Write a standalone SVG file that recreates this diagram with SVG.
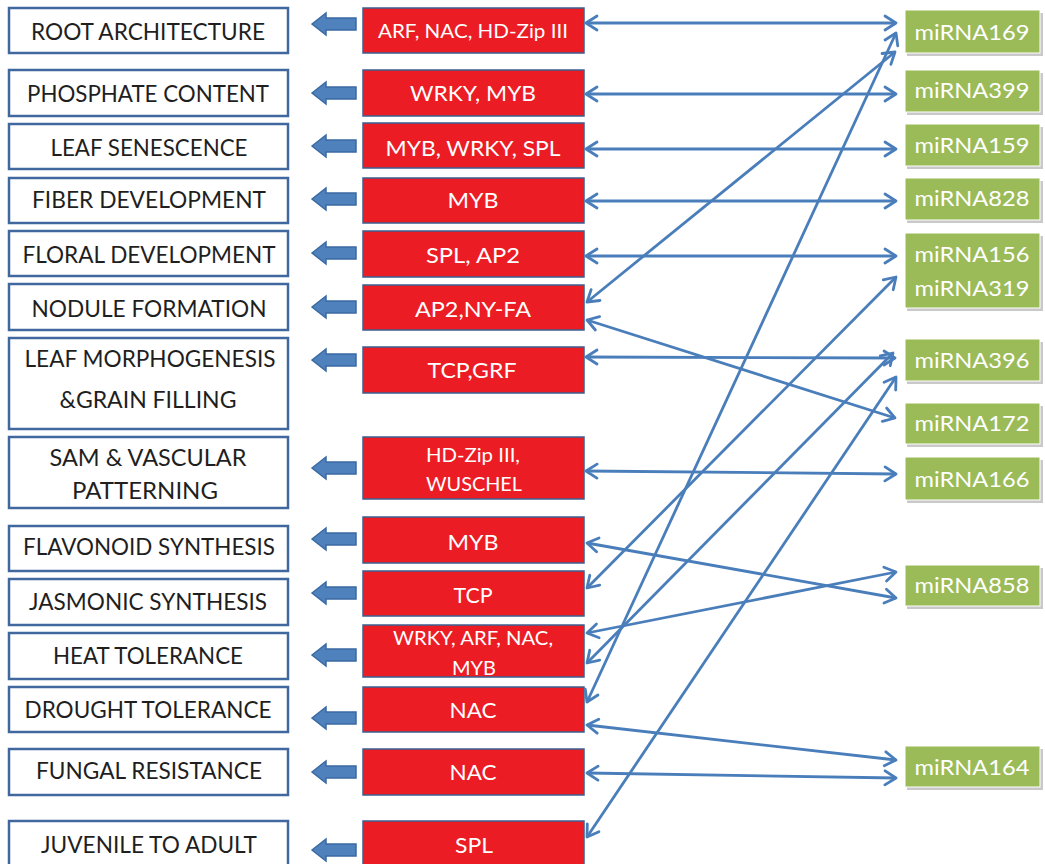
<svg xmlns="http://www.w3.org/2000/svg" xmlns:xlink="http://www.w3.org/1999/xlink" width="1045" height="864" viewBox="0 0 1045 864">
<style>
.lbox{fill:#fff;stroke:#41689e;stroke-width:2.5}
.rbox{fill:#ec1c24;stroke:#3b5f8f;stroke-width:1.5}
.gbox{fill:#9bbb59;stroke:#fff;stroke-width:1}
.shd{fill:#c9c9c9}
.barrow{fill:#4f81bd;stroke:#3a6aa3;stroke-width:1.5}
text{font-family:Lato,"Liberation Sans",sans-serif;text-anchor:middle}
.lt{font-size:23px;fill:#1f1f1f}
.rt{font-size:21px;fill:#fff}
.rs{font-size:19px;fill:#fff}
.gt{font-size:21px;fill:#fff}
.conn{stroke:#4a7ebb;stroke-width:2.8;fill:none;marker-start:url(#ah);marker-end:url(#ah)}
</style>
<defs>
<marker id="ah" viewBox="-13 -9 15 18" refX="0" refY="0" markerWidth="15" markerHeight="18" markerUnits="userSpaceOnUse" orient="auto-start-reverse">
<path d="M-11,-7 L0,0 L-11,7" fill="none" stroke="#4a7ebb" stroke-width="2.8" stroke-linecap="round" stroke-linejoin="round"/>
</marker>
<path id="ba" class="barrow" d="M312,0 L326,-11 L326,-6 L356,-6 L356,6 L326,6 L326,11 Z"/>
</defs>
<rect width="1045" height="864" fill="#fff"/>

<g id="functions">
<g id="f1"><rect class="lbox" x="9" y="8" width="279" height="45"/><text class="lt" x="148" y="40" textLength="234" lengthAdjust="spacingAndGlyphs">ROOT ARCHITECTURE</text></g>
<g id="f2"><rect class="lbox" x="9" y="70" width="279" height="46"/><text class="lt" x="148" y="102" textLength="242" lengthAdjust="spacingAndGlyphs">PHOSPHATE CONTENT</text></g>
<g id="f3"><rect class="lbox" x="9" y="124" width="279" height="45"/><text class="lt" x="149" y="156" textLength="197" lengthAdjust="spacingAndGlyphs">LEAF SENESCENCE</text></g>
<g id="f4"><rect class="lbox" x="9" y="178" width="279" height="45"/><text class="lt" x="149" y="208" textLength="234" lengthAdjust="spacingAndGlyphs">FIBER DEVELOPMENT</text></g>
<g id="f5"><rect class="lbox" x="9" y="231" width="279" height="45"/><text class="lt" x="149" y="263" textLength="253" lengthAdjust="spacingAndGlyphs">FLORAL DEVELOPMENT</text></g>
<g id="f6"><rect class="lbox" x="9" y="284" width="279" height="46"/><text class="lt" x="149" y="317" textLength="235" lengthAdjust="spacingAndGlyphs">NODULE FORMATION</text></g>
<g id="f7"><rect class="lbox" x="9" y="338" width="279" height="91"/><text class="lt" x="150" y="367" textLength="251" lengthAdjust="spacingAndGlyphs">LEAF MORPHOGENESIS</text><text class="lt" x="148" y="408" textLength="177" lengthAdjust="spacingAndGlyphs">&amp;GRAIN FILLING</text></g>
<g id="f8"><rect class="lbox" x="9" y="437" width="279" height="71"/><text class="lt" x="148" y="466" textLength="197" lengthAdjust="spacingAndGlyphs">SAM &amp; VASCULAR</text><text class="lt" x="145" y="499" textLength="146" lengthAdjust="spacingAndGlyphs">PATTERNING</text></g>
<g id="f9"><rect class="lbox" x="9" y="526" width="279" height="45"/><text class="lt" x="149" y="555" textLength="252" lengthAdjust="spacingAndGlyphs">FLAVONOID SYNTHESIS</text></g>
<g id="f10"><rect class="lbox" x="9" y="579" width="279" height="46"/><text class="lt" x="148" y="610" textLength="238" lengthAdjust="spacingAndGlyphs">JASMONIC SYNTHESIS</text></g>
<g id="f11"><rect class="lbox" x="9" y="633" width="279" height="46"/><text class="lt" x="148" y="664" textLength="190" lengthAdjust="spacingAndGlyphs">HEAT TOLERANCE</text></g>
<g id="f12"><rect class="lbox" x="9" y="687" width="279" height="45"/><text class="lt" x="148" y="718" textLength="247" lengthAdjust="spacingAndGlyphs">DROUGHT TOLERANCE</text></g>
<g id="f13"><rect class="lbox" x="9" y="749" width="279" height="46"/><text class="lt" x="149" y="779" textLength="226" lengthAdjust="spacingAndGlyphs">FUNGAL RESISTANCE</text></g>
<g id="f14"><rect class="lbox" x="9" y="821" width="279" height="50"/><text class="lt" x="149" y="853" textLength="216" lengthAdjust="spacingAndGlyphs">JUVENILE TO ADULT</text></g>
</g>

<g id="genes">
<g id="g1"><rect class="rbox" x="363" y="8" width="221" height="45"/><text class="rs" x="473" y="38" textLength="190" lengthAdjust="spacingAndGlyphs">ARF, NAC, HD-Zip III</text></g>
<g id="g2"><rect class="rbox" x="363" y="70" width="221" height="46"/><text class="rt" x="473" y="101" textLength="126" lengthAdjust="spacingAndGlyphs">WRKY, MYB</text></g>
<g id="g3"><rect class="rbox" x="363" y="123" width="221" height="45"/><text class="rt" x="473" y="156" textLength="175" lengthAdjust="spacingAndGlyphs">MYB, WRKY, SPL</text></g>
<g id="g4"><rect class="rbox" x="363" y="178" width="221" height="45"/><text class="rt" x="473" y="208" textLength="51" lengthAdjust="spacingAndGlyphs">MYB</text></g>
<g id="g5"><rect class="rbox" x="363" y="231" width="221" height="46"/><text class="rt" x="473" y="263" textLength="94" lengthAdjust="spacingAndGlyphs">SPL, AP2</text></g>
<g id="g6"><rect class="rbox" x="363" y="285" width="221" height="45"/><text class="rt" x="473" y="317" textLength="116" lengthAdjust="spacingAndGlyphs">AP2,NY-FA</text></g>
<g id="g7"><rect class="rbox" x="363" y="347" width="221" height="46"/><text class="rt" x="472" y="378" textLength="89" lengthAdjust="spacingAndGlyphs">TCP,GRF</text></g>
<g id="g8"><rect class="rbox" x="363" y="437" width="221" height="62"/><text class="rs" x="473" y="462" textLength="94" lengthAdjust="spacingAndGlyphs">HD-Zip III,</text><text class="rs" x="474" y="491" textLength="96" lengthAdjust="spacingAndGlyphs">WUSCHEL</text></g>
<g id="g9"><rect class="rbox" x="363" y="517" width="221" height="46"/><text class="rt" x="473" y="550" textLength="51" lengthAdjust="spacingAndGlyphs">MYB</text></g>
<g id="g10"><rect class="rbox" x="363" y="571" width="221" height="45"/><text class="rt" x="473" y="603" textLength="39" lengthAdjust="spacingAndGlyphs">TCP</text></g>
<g id="g11"><rect class="rbox" x="363" y="625" width="221" height="52"/><text class="rs" x="473" y="645" textLength="160" lengthAdjust="spacingAndGlyphs">WRKY, ARF, NAC,</text><text class="rs" x="474" y="675" textLength="44" lengthAdjust="spacingAndGlyphs">MYB</text></g>
<g id="g12"><rect class="rbox" x="363" y="687" width="221" height="45"/><text class="rt" x="473" y="718" textLength="47" lengthAdjust="spacingAndGlyphs">NAC</text></g>
<g id="g13"><rect class="rbox" x="363" y="749" width="221" height="46"/><text class="rt" x="473" y="780" textLength="47" lengthAdjust="spacingAndGlyphs">NAC</text></g>
<g id="g14"><rect class="rbox" x="363" y="821" width="221" height="50"/><text class="rt" x="474" y="853" textLength="38" lengthAdjust="spacingAndGlyphs">SPL</text></g>
</g>

<g id="mirnas">
<g id="m169"><rect class="shd" x="907" y="13" width="136" height="43"/><rect class="gbox" x="905" y="10" width="135" height="43"/><text class="gt" x="972" y="40" textLength="115" lengthAdjust="spacingAndGlyphs">miRNA169</text></g>
<g id="m399"><rect class="shd" x="907" y="73" width="136" height="42"/><rect class="gbox" x="905" y="70" width="135" height="42"/><text class="gt" x="972" y="98" textLength="115" lengthAdjust="spacingAndGlyphs">miRNA399</text></g>
<g id="m159"><rect class="shd" x="907" y="127" width="136" height="42"/><rect class="gbox" x="905" y="124" width="135" height="42"/><text class="gt" x="972" y="153" textLength="115" lengthAdjust="spacingAndGlyphs">miRNA159</text></g>
<g id="m828"><rect class="shd" x="907" y="181" width="136" height="42"/><rect class="gbox" x="905" y="178" width="135" height="42"/><text class="gt" x="972" y="206" textLength="115" lengthAdjust="spacingAndGlyphs">miRNA828</text></g>
<g id="m156"><rect class="shd" x="907" y="236" width="136" height="75"/><rect class="gbox" x="905" y="233" width="135" height="75"/><text class="gt" x="972" y="262" textLength="115" lengthAdjust="spacingAndGlyphs">miRNA156</text><text class="gt" x="972" y="296" textLength="115" lengthAdjust="spacingAndGlyphs">miRNA319</text></g>
<g id="m396"><rect class="shd" x="907" y="342" width="136" height="42"/><rect class="gbox" x="905" y="339" width="135" height="42"/><text class="gt" x="972" y="368" textLength="115" lengthAdjust="spacingAndGlyphs">miRNA396</text></g>
<g id="m172"><rect class="shd" x="907" y="406" width="136" height="41"/><rect class="gbox" x="905" y="403" width="135" height="41"/><text class="gt" x="972" y="431" textLength="115" lengthAdjust="spacingAndGlyphs">miRNA172</text></g>
<g id="m166"><rect class="shd" x="907" y="460" width="136" height="43"/><rect class="gbox" x="905" y="457" width="135" height="43"/><text class="gt" x="972" y="487" textLength="115" lengthAdjust="spacingAndGlyphs">miRNA166</text></g>
<g id="m858"><rect class="shd" x="907" y="568" width="136" height="41"/><rect class="gbox" x="905" y="565" width="135" height="41"/><text class="gt" x="972" y="593" textLength="115" lengthAdjust="spacingAndGlyphs">miRNA858</text></g>
<g id="m164"><rect class="shd" x="907" y="749" width="136" height="41"/><rect class="gbox" x="905" y="746" width="135" height="41"/><text class="gt" x="972" y="775" textLength="115" lengthAdjust="spacingAndGlyphs">miRNA164</text></g>
</g>

<g id="connectors">
<g id="block-arrows">
<use xlink:href="#ba" href="#ba" y="24"/>
<use xlink:href="#ba" href="#ba" y="93"/>
<use xlink:href="#ba" href="#ba" y="146"/>
<use xlink:href="#ba" href="#ba" y="199"/>
<use xlink:href="#ba" href="#ba" y="253"/>
<use xlink:href="#ba" href="#ba" y="307"/>
<use xlink:href="#ba" href="#ba" y="360"/>
<use xlink:href="#ba" href="#ba" y="468"/>
<use xlink:href="#ba" href="#ba" y="539"/>
<use xlink:href="#ba" href="#ba" y="593"/>
<use xlink:href="#ba" href="#ba" y="655"/>
<use xlink:href="#ba" href="#ba" y="718"/>
<use xlink:href="#ba" href="#ba" y="772"/>
<use xlink:href="#ba" href="#ba" y="850"/>
</g>
<g id="links">
<line class="conn" x1="586" y1="23" x2="896" y2="23"/>
<line class="conn" x1="586" y1="94" x2="896" y2="94"/>
<line class="conn" x1="586" y1="149" x2="896" y2="149"/>
<line class="conn" x1="586" y1="201" x2="896" y2="201"/>
<line class="conn" x1="586" y1="256" x2="896" y2="256"/>
<line class="conn" x1="587" y1="302" x2="895" y2="52"/>
<line class="conn" x1="587" y1="320" x2="895" y2="418"/>
<line class="conn" x1="586" y1="357" x2="895" y2="358"/>
<line class="conn" x1="586" y1="471" x2="896" y2="474"/>
<line class="conn" x1="587" y1="543" x2="896" y2="598"/>
<line class="conn" x1="587" y1="588" x2="896" y2="277"/>
<line class="conn" x1="587" y1="633" x2="896" y2="572"/>
<line class="conn" x1="587" y1="663" x2="893" y2="353"/>
<line class="conn" x1="587" y1="702" x2="896" y2="33"/>
<line class="conn" x1="587" y1="725" x2="896" y2="760"/>
<line class="conn" x1="587" y1="773" x2="896" y2="778"/>
<line class="conn" x1="587" y1="837" x2="896" y2="377"/>
</g>
</g>
</svg>
